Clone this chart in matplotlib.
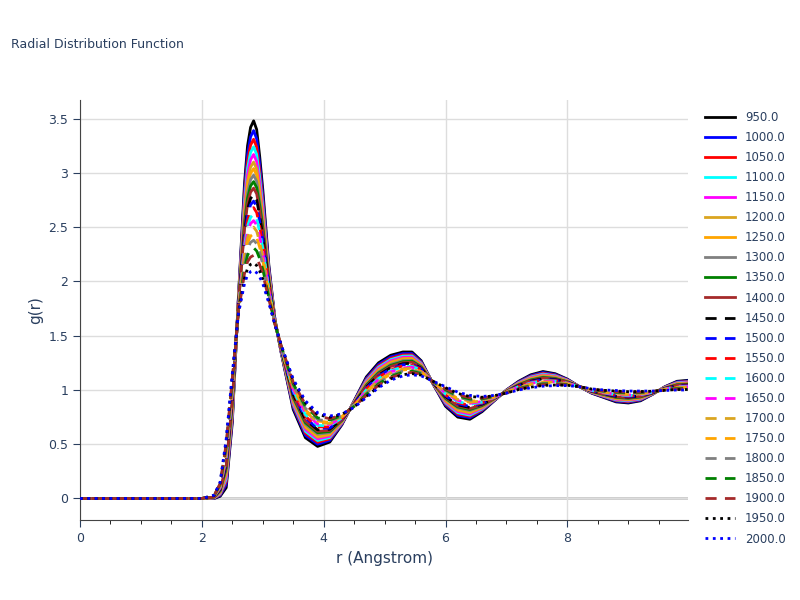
import numpy as np
import matplotlib.pyplot as plt

temps = [950.0, 1000.0, 1050.0, 1100.0, 1150.0, 1200.0, 1250.0, 1300.0, 1350.0, 1400.0, 1450.0,
         1500.0, 1550.0, 1600.0, 1650.0, 1700.0, 1750.0, 1800.0, 1850.0, 1900.0, 1950.0, 2000.0]
# first-peak heights
peaks = [3.48, 3.39, 3.31, 3.24, 3.17, 3.10, 3.04, 2.98, 2.92, 2.86, 2.80,
         2.74, 2.68, 2.62, 2.56, 2.50, 2.44, 2.38, 2.31, 2.24, 2.17, 2.10]

r = [0, 2.0, 2.2, 2.3, 2.4, 2.5, 2.6, 2.7, 2.75, 2.8, 2.85, 2.9, 2.95, 3.0, 3.1, 3.2, 3.3, 3.5, 3.7, 3.9, 4.1, 4.3,
     4.5, 4.7, 4.9, 5.1, 5.3, 5.45, 5.6, 5.8, 6.0, 6.2, 6.4, 6.6, 6.8, 7.0, 7.2, 7.4, 7.6, 7.8, 8.0,
     8.2, 8.4, 8.6, 8.8, 9.0, 9.2, 9.4, 9.6, 9.8, 10.0]
g_cold = [0, 0, 0, 0.02, 0.1, 0.7, 1.85, 2.9, 3.25, 3.42, 3.48, 3.4, 3.15, 2.85, 2.15, 1.65, 1.35, 0.82, 0.56, 0.48, 0.52, 0.68,
          0.9, 1.12, 1.25, 1.32, 1.35, 1.35, 1.27, 1.05, 0.85, 0.75, 0.73, 0.8, 0.9, 1.0, 1.08, 1.14, 1.17, 1.15, 1.1,
          1.03, 0.97, 0.93, 0.89, 0.88, 0.9, 0.96, 1.03, 1.08, 1.09]
g_hot = [0, 0, 0.03, 0.15, 0.55, 1.15, 1.7, 1.98, 2.06, 2.09, 2.1, 2.08, 2.04, 1.98, 1.8, 1.6, 1.42, 1.1, 0.9, 0.79, 0.76, 0.78,
         0.84, 0.93, 1.02, 1.09, 1.13, 1.14, 1.13, 1.08, 1.03, 0.98, 0.95, 0.94, 0.95, 0.97, 1.0, 1.02, 1.035, 1.04, 1.04,
         1.03, 1.01, 1.0, 0.995, 0.99, 0.99, 0.99, 0.995, 1.0, 1.0]

colors = ['black', 'blue', 'red', 'cyan', 'magenta', 'goldenrod', 'orange', 'gray', 'green', 'brown']
font_c = '#2a3f5f'

fig = plt.figure(figsize=(8, 6), dpi=100)
ax = fig.add_axes([0.1, 0.133, 0.76, 0.7])
g_cold = np.array(g_cold)
g_hot = np.array(g_hot)
for i, (t, p) in enumerate(zip(temps, peaks)):
    w = (peaks[0] - p) / (peaks[0] - peaks[-1])
    g = (1 - w) * g_cold + w * g_hot
    if i < 10:
        ls = '-'
    elif i < 20:
        ls = (0, (4, 3))
    else:
        ls = ':'
    ax.plot(r, g, color=colors[i % 10], lw=2, ls=ls, label=str(t), zorder=3)

ax.set_xlim(0, 9.98)
ax.set_ylim(-0.2, 3.67)
ax.set_xticks([0, 2, 4, 6, 8])
ax.set_yticks([0, 0.5, 1, 1.5, 2, 2.5, 3, 3.5])
ax.set_yticklabels(['0', '0.5', '1', '1.5', '2', '2.5', '3', '3.5'])
ax.grid(True, color='#dddddd', lw=1)
ax.axhline(0, color='#c8c8c8', lw=2, zorder=1)
for s in ['top', 'right']:
    ax.spines[s].set_visible(False)
for s in ['left', 'bottom']:
    ax.spines[s].set_color('#444444')
ax.tick_params(colors=font_c, labelsize=9, length=5)
ax.tick_params(axis='x', which='minor', length=3)
ax.set_xticks(np.arange(0, 10, 0.5), minor=True)
ax.set_xlabel('r (Angstrom)', color=font_c, fontsize=11)
ax.set_ylabel('g(r)', color=font_c, fontsize=11)
fig.text(0.014, 0.92, 'Radial Distribution Function', color=font_c, fontsize=9)
leg = ax.legend(loc='upper left', bbox_to_anchor=(1.01, 1.0), frameon=False, fontsize=8.5,
                handlelength=2.6, labelspacing=0.6)
for t in leg.get_texts():
    t.set_color(font_c)
fig.savefig('out.png')
